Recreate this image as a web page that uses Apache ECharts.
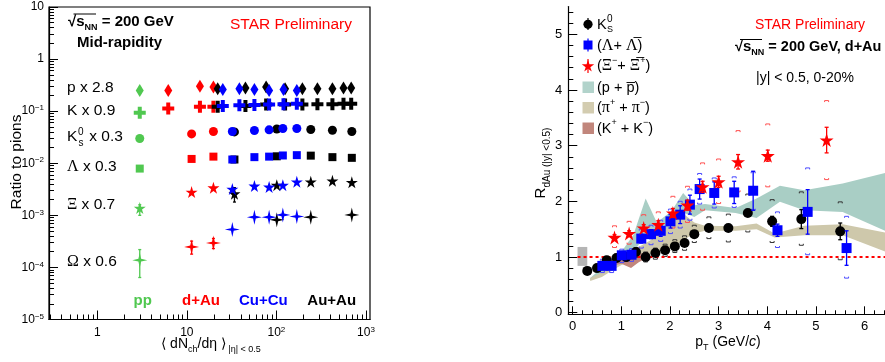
<!DOCTYPE html>
<html>
<head>
<meta charset="utf-8">
<script src="https://cdn.jsdelivr.net/npm/echarts@6/dist/echarts.min.js"></script>
<style>
  html, body { margin: 0; padding: 0; background: #fff; }
  #main { width: 885px; height: 362px; }
</style>
</head>
<body>
<div id="main"></div>
<script>
const LOG = Math.log10;
const FONT = 'Liberation Sans, Arial, sans-serif';
const GREEN = '#50c850', RED = '#ff0000', BLUE = '#0000ff', BLACK = '#000000';

// ---- left panel: ratio to pions vs <dNch/deta>
const ppX = [2.98];
const ppP = [0.25], ppK = [0.093], ppK0 = [0.0298], ppLam = [0.0079], ppXi = [0.00138], ppOm = [1.38e-4];
const ppXiLo = [0.00100], ppXiHi = [0.00160];
const ppOmLo = [6.4e-5], ppOmHi = [2.2e-4];

const dAuPKX = [6.2, 14.0, 19.8];
const dAuP = [0.25, 0.30, 0.29];
const dAuK = [0.112, 0.121, 0.121];
const dAuX = [11.3, 19.8];
const dAuK0 = [0.0366, 0.0406];
const dAuLam = [0.0121, 0.0134];
const dAuXi = [0.0028, 0.0034];
const dAuOm = [2.47e-4, 2.94e-4];
const dAuOmLo = [1.8e-4, 2.3e-4], dAuOmHi = [3.2e-4, 3.6e-4];

const cuPKX = [25.2, 38.6, 56.8, 82.9, 120, 169];
const cuP = [0.26, 0.27, 0.26, 0.25, 0.26, 0.25];
const cuK = [0.125, 0.130, 0.131, 0.134, 0.136, 0.139];
const cuX = [32.2, 56.8, 82.9, 118, 169];
const cuK0 = [0.0406, 0.0425, 0.0438, 0.0465, 0.0465];
const cuLam = [0.0118, 0.0131, 0.0134, 0.0141, 0.0143];
const cuXi = [0.0032, 0.00366, 0.0035, 0.0038, 0.0044];
const cuOm = [5.35e-4, 9.2e-4, 9.2e-4, 1.02e-3, 9.5e-4];

const auPKX = [22.1, 45.1, 76.8, 125, 195, 287, 422, 561, 684];
const auP = [0.27, 0.28, 0.29, 0.27, 0.27, 0.27, 0.27, 0.28, 0.28];
const auK = [0.121, 0.125, 0.134, 0.134, 0.134, 0.136, 0.136, 0.139, 0.139];
const auX = [34, 101, 242, 422, 695];
const auK0 = [0.040, 0.0454, 0.0445, 0.043, 0.0406];
const auLam = [0.0118, 0.0136, 0.014, 0.0131, 0.0127];
const auXi = [0.0026, 0.0038, 0.0044, 0.0046, 0.0043];
const auXiErrX = [34], auXiLo = [0.0018], auXiHi = [0.0034];
const auOmX = [101, 242, 695];
const auOm = [8.2e-4, 9.2e-4, 1.02e-3];

const leftXRange = [0.289, 1109];
const leftYRange = [1e-5, 10];
const leftXMajor = [0, 1, 2, 3];
const leftYMajor = [-5, -4, -3, -2, -1, 0, 1];
const minorDigits = [2, 3, 4, 5, 6, 7, 8, 9];

// ---- right panel: R_dAu vs pT
const k0sPt = [0.3, 0.5, 0.7, 0.9, 1.1, 1.3, 1.5, 1.7, 1.9, 2.1, 2.3, 2.5, 2.8, 3.2, 3.6, 4.1, 4.7, 5.5];
const k0sR = [0.75, 0.80, 0.94, 0.98, 1.0, 1.09, 1.0, 1.07, 1.12, 1.19, 1.25, 1.41, 1.52, 1.52, 1.79, 1.64, 1.68, 1.46];
const k0sErr = [0.02, 0.02, 0.02, 0.02, 0.03, 0.03, 0.05, 0.04, 0.03, 0.03, 0.03, 0.04, 0.04, 0.04, 0.06, 0.09, 0.17, 0.15];
const k0sSysHi = [0.80, 0.86, 1.01, 1.05, 1.08, 1.17, 1.09, 1.16, 1.23, 1.31, 1.38, 1.57, 1.72, 1.77, 2.13, 2.03, 2.17, 1.99];
const k0sSysLo = [0.70, 0.74, 0.87, 0.91, 0.92, 0.99, 0.91, 0.96, 1.01, 1.08, 1.12, 1.26, 1.33, 1.27, 1.45, 1.26, 1.21, 0.95];

const lamPt = [0.61, 0.80, 1.01, 1.21, 1.41, 1.61, 1.81, 2.01, 2.21, 2.41, 2.61, 2.91, 3.32, 3.71, 4.21, 4.83, 5.63];
const lamR = [0.84, 0.84, 1.03, 1.04, 1.33, 1.41, 1.47, 1.64, 1.76, 1.94, 2.22, 2.15, 2.16, 2.19, 1.48, 1.81, 1.16];
const lamErr = [0.06, 0.06, 0.06, 0.06, 0.08, 0.08, 0.10, 0.12, 0.16, 0.17, 0.18, 0.20, 0.20, 0.35, 0.11, 0.40, 0.31];
const lamSysHi = [0.96, 0.96, 1.14, 1.15, 1.50, 1.57, 1.66, 1.86, 2.00, 2.22, 2.50, 2.42, 2.44, 2.53, 1.81, 2.60, 1.73];
const lamSysLo = [0.72, 0.72, 0.90, 0.92, 1.16, 1.22, 1.28, 1.42, 1.52, 1.66, 1.95, 1.88, 1.89, 1.84, 1.17, 1.04, 0.62];

const xiPt = [0.86, 1.16, 1.46, 1.76, 2.06, 2.36, 2.67, 3.0, 3.4, 4.01, 5.22];
const xiR = [1.35, 1.42, 1.52, 1.58, 1.79, 1.93, 2.26, 2.35, 2.71, 2.82, 3.10];
const xiErr = [0.05, 0.05, 0.06, 0.07, 0.08, 0.09, 0.10, 0.10, 0.13, 0.10, 0.23];
const xiSysHi = [1.56, 1.64, 1.76, 1.81, 2.09, 2.27, 2.69, 2.76, 3.27, 3.39, 3.81];
const xiSysLo = [1.17, 1.23, 1.33, 1.39, 1.52, 1.62, 1.84, 1.96, 2.17, 2.26, 2.39];

const protPt = [0.36, 0.6, 0.85, 1.05, 1.25, 1.5, 1.73, 2.03, 2.27, 2.5, 2.72, 3.35, 3.78, 4.26, 4.76, 5.55, 6.42];
const protHi = [0.62, 0.80, 1.00, 1.15, 1.40, 2.05, 1.62, 1.82, 2.15, 1.93, 1.95, 1.88, 2.05, 2.28, 2.20, 2.32, 2.51];
const protLo = [0.58, 0.70, 0.85, 0.95, 1.10, 1.38, 1.30, 1.42, 1.80, 1.72, 1.84, 1.79, 1.70, 1.99, 1.84, 1.81, 1.47];

const pionPt = [0.36, 0.6, 0.85, 1.05, 1.3, 1.6, 2.0, 2.27, 2.5, 2.72, 3.35, 3.78, 4.15, 4.76, 5.55, 6.42];
const pionHi = [0.62, 0.72, 0.88, 1.00, 1.15, 1.30, 1.55, 1.78, 1.62, 1.56, 1.55, 1.60, 1.42, 1.56, 1.59, 1.44];
const pionLo = [0.57, 0.64, 0.78, 0.88, 0.98, 1.05, 1.15, 1.30, 1.42, 1.47, 1.47, 1.50, 1.35, 1.39, 1.39, 1.10];

const kaonPt = [0.8, 1.0, 1.2, 1.35, 1.55];
const kaonHi = [0.93, 1.02, 0.98, 1.05, 1.10];
const kaonLo = [0.84, 0.88, 0.80, 0.90, 1.00];

const normBox = [0.1, 0.3, 0.84, 1.18];
const unityX = [0.1, 6.42], unityY = [1, 1];

const rightXRange = [-0.09, 6.42];
const rightYRange = [-0.03, 5.5];
const rightXMajor = [0, 1, 2, 3, 4, 5, 6];
const rightYMajor = [0, 1, 2, 3, 4, 5];

// ---- helpers
const pts = (xs, ys) => xs.map((x, i) => [x, ys[i]]);
const STAR_PTS = [[50, 0], [61, 35], [98, 35], [68, 57], [79, 91], [50, 70], [21, 91], [32, 57], [2, 35], [39, 35]];
const SYM = {
  diamond: 'diamond',
  cross: 'path://M4,0H8V4H12V8H8V12H4V8H0V4H4Z',
  circle: 'circle',
  square: 'rect',
  star: 'path://M' + STAR_PTS.map(p => p.join(',')).join('L') + 'Z',
  star4: 'path://M50,0L59,41L100,50L59,59L50,100L41,59L0,50L41,41Z'
};
const SIZE = { diamond: [8, 13], cross: 12, circle: 9, square: 8, star: 12, star4: 15 };

function scatter(ax, data, sym, size, color, z) {
  return { type: 'scatter', xAxisIndex: ax, yAxisIndex: ax, data, symbol: SYM[sym] || sym,
    symbolSize: size, itemStyle: { color, opacity: 1 }, silent: true, z: z || 3, animation: false };
}

function errBars(ax, xs, lo, hi, color, cap, z) {
  return { type: 'custom', xAxisIndex: ax, yAxisIndex: ax, silent: true, z: z || 3, animation: false,
    data: xs.map((x, i) => [x, lo[i], hi[i]]),
    renderItem: (p, api) => {
      const a = api.coord([api.value(0), api.value(1)]);
      const b = api.coord([api.value(0), api.value(2)]);
      const st = { stroke: color, lineWidth: 1.3 };
      const ch = [{ type: 'line', shape: { x1: a[0], y1: a[1], x2: b[0], y2: b[1] }, style: st }];
      if (cap) {
        ch.push({ type: 'line', shape: { x1: a[0] - cap, y1: a[1], x2: a[0] + cap, y2: a[1] }, style: st });
        ch.push({ type: 'line', shape: { x1: b[0] - cap, y1: b[1], x2: b[0] + cap, y2: b[1] }, style: st });
      }
      return { type: 'group', children: ch };
    } };
}

function sysBrackets(xs, lo, hi, color) {
  return { type: 'custom', xAxisIndex: 3, yAxisIndex: 3, silent: true, z: 2, animation: false,
    data: xs.map((x, i) => [x, lo[i], hi[i]]),
    renderItem: (p, api) => {
      const t = api.coord([api.value(0), api.value(2)]);
      const b = api.coord([api.value(0), api.value(1)]);
      const w = 2, h = 1.5;
      const st = { stroke: color, lineWidth: 1, fill: null };
      return { type: 'group', children: [
        { type: 'polyline', shape: { points: [[t[0] - w, t[1] + h], [t[0] - w, t[1]], [t[0] + w, t[1]], [t[0] + w, t[1] + h]] }, style: st },
        { type: 'polyline', shape: { points: [[b[0] - w, b[1] - h], [b[0] - w, b[1]], [b[0] + w, b[1]], [b[0] + w, b[1] - h]] }, style: st }
      ] };
    } };
}

function band(xs, lo, hi, color, z) {
  return { type: 'custom', xAxisIndex: 3, yAxisIndex: 3, silent: true, z: z, animation: false,
    data: xs.map((x, i) => [x, lo[i], hi[i]]),
    renderItem: (p, api) => {
      if (p.dataIndex !== 0) return null;
      const up = xs.map((x, i) => api.coord([x, hi[i]]));
      const dn = xs.map((x, i) => api.coord([x, lo[i]])).reverse();
      return { type: 'polygon', shape: { points: up.concat(dn) }, style: { fill: color } };
    } };
}

const leftMinorX = [], leftMinorY = [];
[-1, 0, 1, 2].forEach(d => minorDigits.forEach(k => {
  const v = LOG(k) + d;
  if (v > LOG(leftXRange[0]) && v < LOG(leftXRange[1])) leftMinorX.push(v);
}));
[-5, -4, -3, -2, -1, 0].forEach(d => minorDigits.forEach(k => leftMinorY.push(LOG(k) + d)));
const rightMinorX = [], rightMinorY = [];
for (let i = 1; i <= 32; i++) if (i % 5) rightMinorX.push(i / 5);
for (let i = 1; i <= 27; i++) if (i % 5) rightMinorY.push(i / 5);

const powLabel = v => v === 0 ? '1' : v === 1 ? '10' : '10{sup|' + String(v).replace('-', '\u2212') + '}';
const supRich = { sup: { fontSize: 8, lineHeight: 8, verticalAlign: 'top', fontFamily: FONT, color: '#000' } };
const axLine = { lineStyle: { color: '#000', width: 1.2 } };

function overlayAxis(grid, pos, range, ticks, len, labels) {
  return { gridIndex: grid, position: pos, type: 'value', min: range[0], max: range[1], axisLine: { show: false, onZero: false },
    splitLine: { show: false },
    axisTick: { show: true, inside: true, length: len, customValues: ticks, lineStyle: { color: '#000', width: 1 } },
    axisLabel: labels ? Object.assign({ customValues: ticks, color: '#000', fontFamily: FONT }, labels) : { show: false } };
}

const xAxis = [
  { gridIndex: 0, position: 'bottom', type: 'log', min: leftXRange[0], max: leftXRange[1], axisLine: Object.assign({ onZero: false }, axLine),
    axisTick: { show: false }, axisLabel: { show: false }, splitLine: { show: false } },
  overlayAxis(0, 'bottom', leftXRange.map(LOG), leftXMajor, 9, { fontSize: 12, margin: 6, lineHeight: 14, formatter: powLabel, rich: supRich }),
  overlayAxis(0, 'bottom', leftXRange.map(LOG), leftMinorX, 5, null),
  { gridIndex: 1, position: 'bottom', type: 'value', min: rightXRange[0], max: rightXRange[1], axisLine: Object.assign({ onZero: false }, axLine),
    splitLine: { show: false },
    axisTick: { inside: true, length: 8, customValues: rightXMajor, lineStyle: { color: '#000' } },
    axisLabel: { customValues: rightXMajor, fontSize: 13, margin: 6, color: '#000', fontFamily: FONT } },
  overlayAxis(1, 'bottom', rightXRange, rightMinorX, 4, null)
];
const yAxis = [
  { gridIndex: 0, position: 'left', type: 'log', min: leftYRange[0], max: leftYRange[1], axisLine: Object.assign({ onZero: false }, axLine),
    axisTick: { show: false }, axisLabel: { show: false }, splitLine: { show: false } },
  overlayAxis(0, 'left', leftYRange.map(LOG), leftYMajor, 9, { fontSize: 12, margin: 5, lineHeight: 14, formatter: powLabel, rich: supRich }),
  overlayAxis(0, 'left', leftYRange.map(LOG), leftMinorY, 5, null),
  { gridIndex: 1, position: 'left', type: 'value', min: rightYRange[0], max: rightYRange[1], axisLine: Object.assign({ onZero: false }, axLine),
    splitLine: { show: false },
    axisTick: { inside: true, length: 9, customValues: rightYMajor, lineStyle: { color: '#000' } },
    axisLabel: { customValues: rightYMajor, fontSize: 13, margin: 6, color: '#000', fontFamily: FONT } },
  overlayAxis(1, 'left', rightYRange, rightMinorY, 5, null)
];

const lo = (ys, es) => ys.map((y, i) => y - es[i]);
const hi = (ys, es) => ys.map((y, i) => y + es[i]);

const series = [
  // left panel, drawn green, red, black, blue
  scatter(0, pts(ppX, ppP), 'diamond', SIZE.diamond, GREEN),
  scatter(0, pts(ppX, ppK), 'cross', SIZE.cross, GREEN),
  scatter(0, pts(ppX, ppK0), 'circle', SIZE.circle, GREEN),
  scatter(0, pts(ppX, ppLam), 'square', SIZE.square, GREEN),
  scatter(0, pts(ppX, ppXi), 'star', SIZE.star, GREEN),
  scatter(0, pts(ppX, ppOm), 'star4', SIZE.star4, GREEN),
  errBars(0, ppX, ppXiLo, ppXiHi, GREEN, 1.5),
  errBars(0, ppX, ppOmLo, ppOmHi, GREEN, 1.5),
  scatter(0, pts(dAuPKX, dAuP), 'diamond', SIZE.diamond, RED),
  scatter(0, pts(dAuPKX, dAuK), 'cross', SIZE.cross, RED),
  scatter(0, pts(dAuX, dAuK0), 'circle', SIZE.circle, RED),
  scatter(0, pts(dAuX, dAuLam), 'square', SIZE.square, RED),
  scatter(0, pts(dAuX, dAuXi), 'star', SIZE.star, RED),
  scatter(0, pts(dAuX, dAuOm), 'star4', SIZE.star4, RED),
  errBars(0, dAuX, dAuOmLo, dAuOmHi, RED, 1.5),
  scatter(0, pts(auPKX, auP), 'diamond', SIZE.diamond, BLACK),
  scatter(0, pts(auPKX, auK), 'cross', SIZE.cross, BLACK),
  scatter(0, pts(auX, auK0), 'circle', SIZE.circle, BLACK),
  scatter(0, pts(auX, auLam), 'square', SIZE.square, BLACK),
  scatter(0, pts(auX, auXi), 'star', SIZE.star, BLACK),
  errBars(0, auXiErrX, auXiLo, auXiHi, BLACK, 1.5),
  scatter(0, pts(auOmX, auOm), 'star4', SIZE.star4, BLACK),
  scatter(0, pts(cuPKX, cuP), 'diamond', SIZE.diamond, BLUE, 4),
  scatter(0, pts(cuPKX, cuK), 'cross', SIZE.cross, BLUE, 4),
  scatter(0, pts(cuX, cuK0), 'circle', SIZE.circle, BLUE, 4),
  scatter(0, pts(cuX, cuLam), 'square', SIZE.square, BLUE, 4),
  scatter(0, pts(cuX, cuXi), 'star', SIZE.star, BLUE, 4),
  scatter(0, pts(cuX, cuOm), 'star4', SIZE.star4, BLUE, 4),

  // right panel
  band(protPt, protLo, protHi, '#a9cec5', 1),
  band(pionPt, pionLo, pionHi, '#cec8ab', 1),
  band(kaonPt, kaonLo, kaonHi, '#c1867c', 1),
  { type: 'custom', xAxisIndex: 3, yAxisIndex: 3, silent: true, z: 2, animation: false, data: [normBox],
    renderItem: (p, api) => {
      const a = api.coord([api.value(0), api.value(3)]);
      const b = api.coord([api.value(1), api.value(2)]);
      return { type: 'rect', shape: { x: a[0], y: a[1], width: b[0] - a[0], height: b[1] - a[1] }, style: { fill: '#b5b5b5' } };
    } },
  { type: 'line', xAxisIndex: 3, yAxisIndex: 3, data: pts(unityX, unityY), symbol: 'none', silent: true, z: 2,
    lineStyle: { color: RED, width: 2, type: [3, 3] }, animation: false },
  sysBrackets(k0sPt, k0sSysLo, k0sSysHi, '#333333'),
  sysBrackets(lamPt, lamSysLo, lamSysHi, '#4a4aff'),
  sysBrackets(xiPt, xiSysLo, xiSysHi, '#ff5050'),
  errBars(3, k0sPt, lo(k0sR, k0sErr), hi(k0sR, k0sErr), BLACK, 2, 3),
  scatter(3, pts(k0sPt, k0sR), 'circle', 10, BLACK, 3),
  errBars(3, lamPt, lo(lamR, lamErr), hi(lamR, lamErr), BLUE, 2, 4),
  scatter(3, pts(lamPt, lamR), 'square', 10, BLUE, 4),
  errBars(3, xiPt, lo(xiR, xiErr), hi(xiR, xiErr), RED, 2, 5),
  scatter(3, pts(xiPt, xiR), 'star', 14, RED, 5)
];

// ---- text
const txt = (x, y, text, o) => ({ type: 'text', x, y, silent: true, z: 10, rotation: (o && o.rot) || 0,
  style: Object.assign({ text, fill: '#000', fontFamily: FONT, fontSize: 15,
    align: 'left', textAlign: 'left', verticalAlign: 'middle', textVerticalAlign: 'middle' }, o) });
const rich = {
  sub: { fontSize: 9, lineHeight: 9, verticalAlign: 'bottom', fontFamily: FONT },
  sup: { fontSize: 9, lineHeight: 9, verticalAlign: 'top', fontFamily: FONT },
  g: { fontFamily: 'Liberation Serif, serif', fontSize: 16 },
  i: { fontStyle: 'italic', fontFamily: FONT, fontSize: 14 }
};
const boldRich = {
  sub: { fontSize: 9, lineHeight: 9, verticalAlign: 'bottom', fontFamily: FONT, fontWeight: 'bold' },
  s: { fontSize: 15, fontWeight: 'bold', fontFamily: FONT }
};

const speciesLabels = [['p x 2.8', 88], ['K x 0.9', 111], ['{g|\u039b} x 0.3', 167], ['{g|\u039e} x 0.7', 205], ['{g|\u03a9} x 0.6', 262]];
const systemLabels = [['pp', 142.7, GREEN], ['d+Au', 201, RED], ['Cu+Cu', 263.3, BLUE], ['Au+Au', 331.7, BLACK]];
const legendStar = STAR_PTS.map(p => [588 + (p[0] - 50) * 0.13, 66 + (p[1] - 48) * 0.13]);

const graphic = [
  txt(68, 22, '\u221a{s|s}{sub|NN} = 200 GeV', { fontWeight: 'bold', fontSize: 15, lineHeight: 20, rich: boldRich }),
  { type: 'line', shape: { x1: 73.5, y1: 14, x2: 96, y2: 14 }, style: { stroke: '#000', lineWidth: 1 }, silent: true },
  txt(77, 43, 'Mid-rapidity', { fontWeight: 'bold', fontSize: 15 }),
  txt(230, 25, 'STAR Preliminary', { fill: RED, fontSize: 15.5 }),
  ...speciesLabels.map(s => txt(67, s[1], s[0], { fontSize: 15.5, lineHeight: 20, rich })),
  txt(67, 137, 'K', { fontSize: 15.5 }),
  txt(78, 132, '0', { fontSize: 10 }),
  txt(78.5, 143, 's', { fontSize: 10 }),
  txt(85, 137, ' x 0.3', { fontSize: 15.5 }),
  ...systemLabels.map(s => txt(s[1], 301, s[0], { fontWeight: 'bold', fontSize: 15, fill: s[2], align: 'center', textAlign: 'center' })),
  txt(17, 162, 'Ratio to pions', { fontSize: 15.5, align: 'center', textAlign: 'center', rot: Math.PI / 2 }),
  txt(211, 344, '\u27e8 dN{sub|ch}/d\u03b7 \u27e9{sub| |\u03b7| < 0.5}', { fontSize: 14, lineHeight: 20, align: 'center', textAlign: 'center', rich }),

  // right panel legend
  { type: 'line', shape: { x1: 588, y1: 18, x2: 588, y2: 30 }, style: { stroke: BLACK, lineWidth: 1.2 }, silent: true },
  { type: 'circle', shape: { cx: 588, cy: 24.3, r: 4.6 }, style: { fill: BLACK }, silent: true },
  txt(597, 25, 'K', { fontSize: 14.5 }),
  txt(607, 19, '0', { fontSize: 10 }),
  txt(607, 30, 'S', { fontSize: 9 }),
  { type: 'line', shape: { x1: 588, y1: 38.5, x2: 588, y2: 51.5 }, style: { stroke: BLUE, lineWidth: 1.2 }, silent: true },
  { type: 'rect', shape: { x: 583.5, y: 40.5, width: 9, height: 9 }, style: { fill: BLUE }, silent: true },
  txt(597, 45.5, '({g|\u039b}+ {g|\u039b\u0305})', { fontSize: 14.5, lineHeight: 20, rich }),
  { type: 'line', shape: { x1: 588, y1: 59, x2: 588, y2: 73 }, style: { stroke: RED, lineWidth: 1.2 }, silent: true },
  { type: 'polygon', shape: { points: legendStar }, style: { fill: RED }, silent: true, z: 11 },
  txt(597, 66, '({g|\u039e}{sup|\u2212}+ {g|\u039e\u0305}{sup|+})', { fontSize: 14.5, lineHeight: 20, rich }),
  { type: 'rect', shape: { x: 582.5, y: 81.5, width: 11.5, height: 11.5 }, style: { fill: '#b2d3cb' }, silent: true },
  txt(597, 87.5, '(p + p\u0305)', { fontSize: 14.5 }),
  { type: 'rect', shape: { x: 582.5, y: 102, width: 11.5, height: 11.5 }, style: { fill: '#d3ccb0' }, silent: true },
  txt(597, 108, '({g|\u03c0}{sup|+} + {g|\u03c0}{sup|\u2212})', { fontSize: 14.5, lineHeight: 20, rich }),
  { type: 'rect', shape: { x: 582.5, y: 122.5, width: 11.5, height: 11.5 }, style: { fill: '#c1867c' }, silent: true },
  txt(597, 128.5, '(K{sup|+} + K{sup|\u2212})', { fontSize: 14.5, lineHeight: 20, rich }),

  txt(810, 25, 'STAR Preliminary', { fill: RED, fontSize: 14, align: 'center', textAlign: 'center' }),
  txt(735, 47, '\u221a{s|s}{sub|NN} = 200 GeV, d+Au', { fontWeight: 'bold', fontSize: 14.5, lineHeight: 20, rich: boldRich }),
  { type: 'line', shape: { x1: 740, y1: 39.5, x2: 762, y2: 39.5 }, style: { stroke: '#000', lineWidth: 1 }, silent: true },
  txt(756, 78, '|y| < 0.5, 0-20%', { fontSize: 14 }),
  txt(728, 342, 'p{sub|T} (GeV/{i|c})', { fontSize: 14, lineHeight: 20, align: 'center', textAlign: 'center', rich }),
  txt(541, 163, 'R{sub|dAu (|y| <0.5)}', { fontSize: 15, lineHeight: 22, align: 'center', textAlign: 'center', rot: Math.PI / 2,
    rich: { sub: { fontSize: 10, lineHeight: 10, verticalAlign: 'bottom', fontFamily: FONT } } })
];

const chart = echarts.init(document.getElementById('main'));
chart.setOption({
  animation: false,
  backgroundColor: '#fff',
  grid: [
    { left: 49, top: 4, width: 321, height: 315.5, show: true, borderColor: '#000', borderWidth: 1.2, backgroundColor: 'transparent' },
    { left: 568.3, top: 6.5, width: 316.7, height: 307.8 }
  ],
  xAxis, yAxis, series, graphic
});
</script>
</body>
</html>
